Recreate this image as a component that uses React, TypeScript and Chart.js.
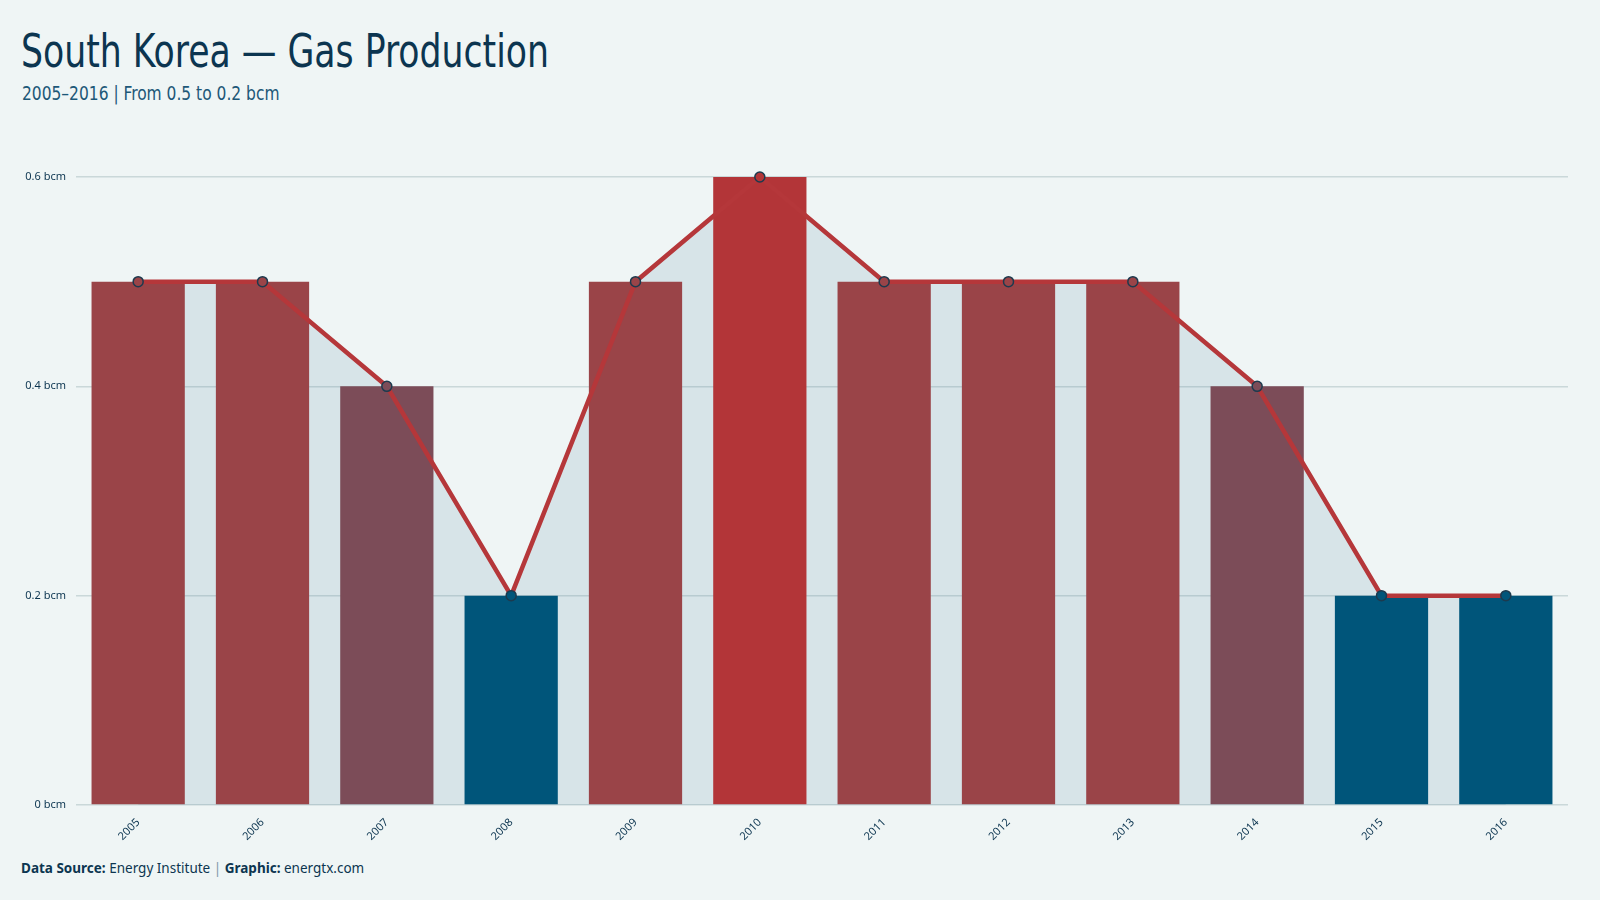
import React, { useEffect, useRef } from "react";
import { Chart, registerables } from "chart.js";

Chart.register(...registerables);

const years = ["2005", "2006", "2007", "2008", "2009", "2010", "2011", "2012", "2013", "2014", "2015", "2016"];
const production = [0.5, 0.5, 0.4, 0.2, 0.5, 0.6, 0.5, 0.5, 0.5, 0.4, 0.2, 0.2];
const yTicks = [0, 0.2, 0.4, 0.6];

const BG = "#eff5f5";
const DARK = "#0c3550";
const GRID = "#cad8d9";

function barColor(v: number): string {
  if (v >= 0.6) return "#b33538";
  if (v >= 0.5) return "#9a4448";
  if (v >= 0.4) return "#7c4c58";
  return "#00557a";
}

export default function App() {
  const ref = useRef<HTMLCanvasElement | null>(null);

  useEffect(() => {
    if (!ref.current) return;
    const colors = production.map(barColor);
    const chart = new Chart(ref.current, {
      type: "bar",
      data: {
        labels: years,
        datasets: [
          {
            type: "line",
            label: "line",
            data: production,
            borderColor: "#b5373a",
            borderWidth: 4.5,
            backgroundColor: "rgba(79,132,158,0.15)",
            fill: "origin",
            tension: 0,
            pointRadius: 5,
            pointBorderWidth: 1.5,
            pointBorderColor: "#1c3a4e",
            pointBackgroundColor: colors,
            order: 0,
            clip: false,
          } as any,
          {
            type: "bar",
            label: "bar",
            data: production,
            backgroundColor: colors,
            borderWidth: 0,
            categoryPercentage: 0.75,
            barPercentage: 1,
            order: 1,
          },
        ],
      },
      options: {
        animation: false,
        responsive: true,
        maintainAspectRatio: false,
        layout: { padding: { top: 27, right: 32, left: 0, bottom: 0 } },
        plugins: {
          legend: { display: false },
          tooltip: { enabled: false },
          filler: { drawTime: "beforeDatasetsDraw" } as any,
        },
        scales: {
          x: {
            grid: { display: false, drawTicks: false },
            border: { display: false },
            ticks: {
              autoSkip: false,
              maxRotation: 45,
              minRotation: 45,
              padding: 11,
              color: DARK,
              font: { family: "'Noto Sans', sans-serif", size: 11 },
            },
            afterFit: (s: any) => {
              s.height = 45;
            },
          },
          y: {
            min: 0,
            max: 0.6,
            afterBuildTicks: (s: any) => {
              s.ticks = yTicks.map((v) => ({ value: v }));
            },
            grid: { color: GRID, lineWidth: 1.5, drawTicks: false },
            border: { display: false },
            ticks: {
              padding: 10,
              color: DARK,
              font: { family: "'Noto Sans', sans-serif", size: 11 },
              callback: (v: any) => `${Number(Number(v).toFixed(1))} bcm`,
            },
            afterFit: (s: any) => {
              s.width = 76;
            },
          },
        },
      },
    });
    return () => chart.destroy();
  }, []);

  return (
    <div style={{ position: "fixed", left: 0, top: 0, width: 1600, height: 900, background: BG, overflow: "hidden" }}>
      <div
        style={{
          position: "absolute",
          left: 21,
          top: 27,
          fontFamily: "'DejaVu Sans Condensed', sans-serif",
          fontSize: 47,
          lineHeight: 1,
          color: DARK,
          whiteSpace: "nowrap",
          transform: "scaleX(0.82)",
          transformOrigin: "left top",
        }}
      >
        South Korea — Gas Production
      </div>
      <div
        style={{
          position: "absolute",
          left: 22,
          top: 83,
          fontFamily: "'DejaVu Sans Condensed', sans-serif",
          fontSize: 20,
          lineHeight: 1,
          color: "#1d5878",
          whiteSpace: "nowrap",
          transform: "scaleX(0.86)",
          transformOrigin: "left top",
        }}
      >
        2005–2016 | From 0.5 to 0.2 bcm
      </div>
      <div style={{ position: "absolute", left: 0, top: 150, width: 1600, height: 700 }}>
        <canvas ref={ref} />
      </div>
      <div
        style={{
          position: "absolute",
          left: 21,
          top: 862,
          fontFamily: "'Noto Sans', sans-serif",
          fontSize: 13.5,
          lineHeight: 1,
          color: DARK,
          whiteSpace: "nowrap",
        }}
      >
        <b>Data Source:</b> Energy Institute <span style={{ color: "#7f9aa8" }}>|</span> <b>Graphic:</b> energtx.com
      </div>
    </div>
  );
}
